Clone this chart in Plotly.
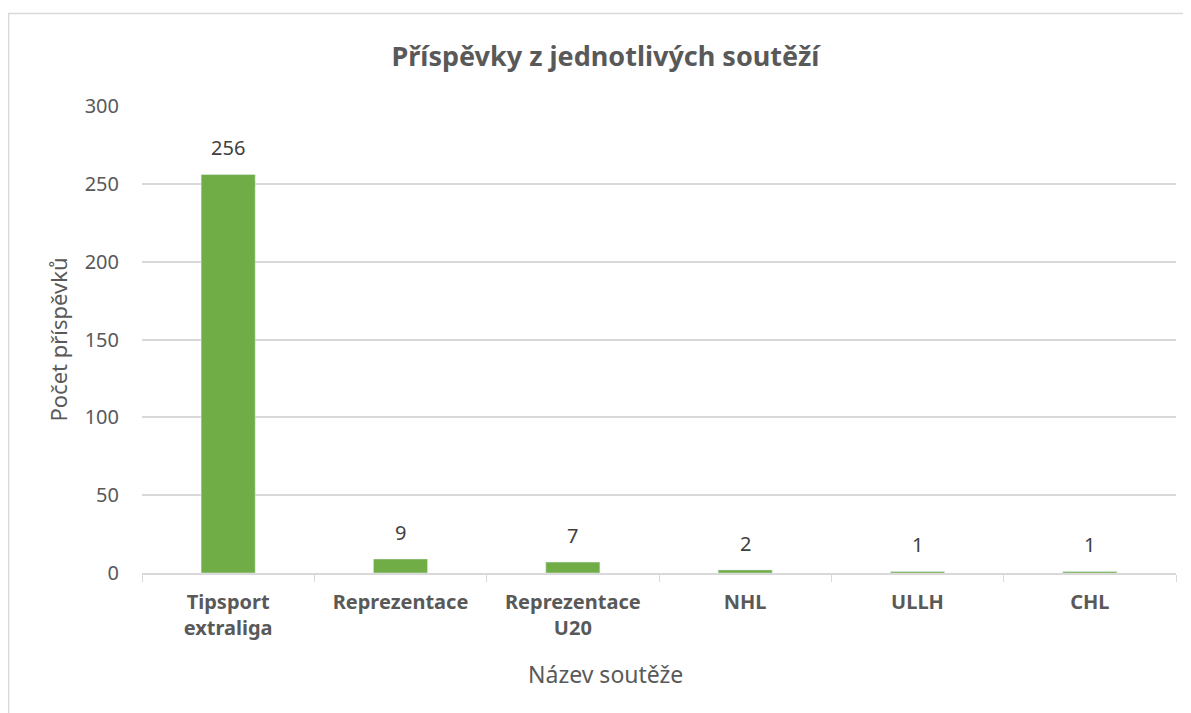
import plotly.graph_objects as go

souteze = ["Tipsport<br>extraliga", "Reprezentace", "Reprezentace<br>U20", "NHL", "ULLH", "CHL"]
pocty = [256, 9, 7, 2, 1, 1]
y_ticks = [0, 50, 100, 150, 200, 250, 300]

font_name = "Noto Sans"
gray = "#595959"
line_gray = "#d9d9d9"

fig = go.Figure(data=[
    go.Bar(x=souteze, y=pocty, marker_color="#70ad47", cliponaxis=False)
])

# value labels above the bars
for kat, val in zip(souteze, pocty):
    fig.add_annotation(x=kat, y=val, text=str(val), showarrow=False,
                       yanchor="bottom", yshift=11,
                       font=dict(family=font_name, size=20, color="#404040"))

# page body has an 8px margin, so the figure starts at (8, 8)
fig.update_layout(
    width=1183, height=705,
    margin=dict(l=134, r=15, t=98, b=140),
    paper_bgcolor="white", plot_bgcolor="white",
    bargap=0.686,
    showlegend=False,
    font=dict(family=font_name, color=gray),
    title=dict(text="<b>Příspěvky z jednotlivých soutěží</b>", x=0.505, xanchor="center",
               y=1 - 49 / 705, yanchor="middle",
               font=dict(family=font_name, size=27, color=gray)),
)

fig.update_xaxes(
    tickfont=dict(family=font_name, size=20, color=gray),
    tickprefix="<b>", ticksuffix="</b>",
    showline=True, linecolor=line_gray, linewidth=1.5,
    ticks="outside", tickson="boundaries", ticklen=7, tickcolor=line_gray,
    ticklabelstandoff=10,
    showgrid=False,
)

# x axis title sits left of plot centre in the reference
fig.add_annotation(text="Název soutěže", xref="paper", yref="paper",
                   x=0.448, y=-0.216, xanchor="center", yanchor="middle",
                   showarrow=False,
                   font=dict(family=font_name, size=23, color=gray))

fig.update_yaxes(
    range=[0, 300], tickvals=y_ticks,
    tickfont=dict(family=font_name, size=20, color=gray),
    showgrid=True, gridcolor=line_gray, gridwidth=1.5,
    zeroline=False, showline=False,
    ticklabelstandoff=22,
    title=dict(text="Počet příspěvků", standoff=10,
               font=dict(family=font_name, size=22, color=gray)),
)

# chart border (only top and left edge visible in the reference)
fig.add_shape(type="rect", xref="paper", yref="paper",
              x0=-0.129, x1=1.2, y0=-0.6, y1=1.198,
              line=dict(color=line_gray, width=1.5), layer="below")

fig.write_html("out.html")
